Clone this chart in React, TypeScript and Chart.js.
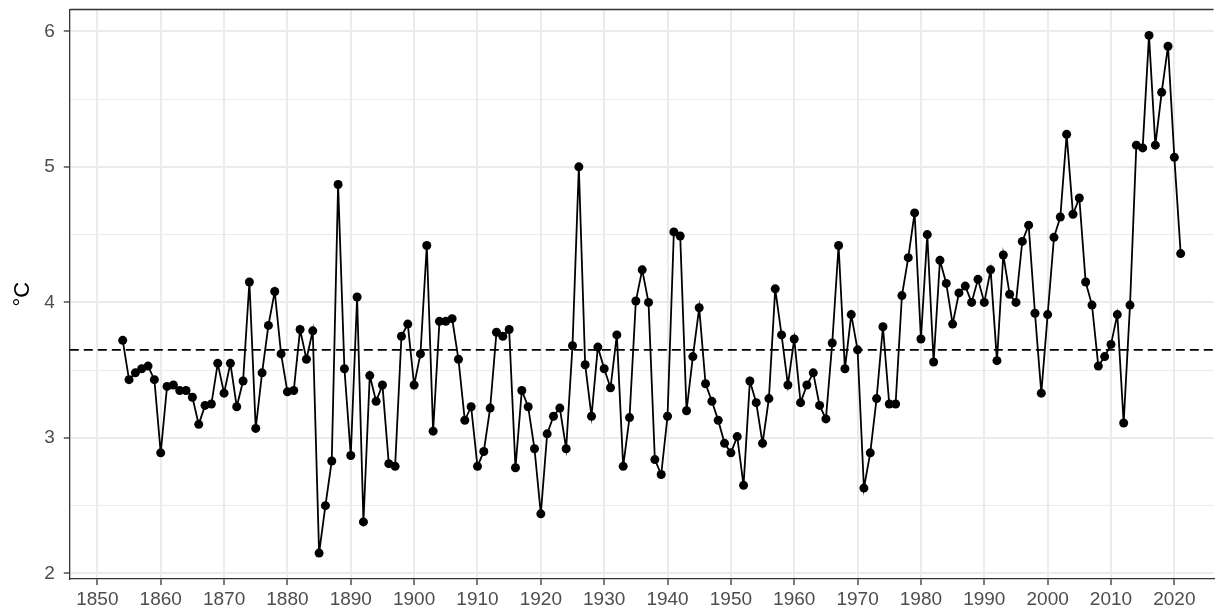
import { useEffect, useRef } from "react";
import { Chart, registerables } from "chart.js";

Chart.register(...registerables);

// Years (x categories)
const years: number[] = [
  1854, 1855, 1856, 1857, 1858, 1859,
  1860, 1861, 1862, 1863, 1864, 1865, 1866, 1867, 1868, 1869,
  1870, 1871, 1872, 1873, 1874, 1875, 1876, 1877, 1878, 1879,
  1880, 1881, 1882, 1883, 1884, 1885, 1886, 1887, 1888, 1889,
  1890, 1891, 1892, 1893, 1894, 1895, 1896, 1897, 1898, 1899,
  1900, 1901, 1902, 1903, 1904, 1905, 1906, 1907, 1908, 1909,
  1910, 1911, 1912, 1913, 1914, 1915, 1916, 1917, 1918, 1919,
  1920, 1921, 1922, 1923, 1924, 1925, 1926, 1927, 1928, 1929,
  1930, 1931, 1932, 1933, 1934, 1935, 1936, 1937, 1938, 1939,
  1940, 1941, 1942, 1943, 1944, 1945, 1946, 1947, 1948, 1949,
  1950, 1951, 1952, 1953, 1954, 1955, 1956, 1957, 1958, 1959,
  1960, 1961, 1962, 1963, 1964, 1965, 1966, 1967, 1968, 1969,
  1970, 1971, 1972, 1973, 1974, 1975, 1976, 1977, 1978, 1979,
  1980, 1981, 1982, 1983, 1984, 1985, 1986, 1987, 1988, 1989,
  1990, 1991, 1992, 1993, 1994, 1995, 1996, 1997, 1998, 1999,
  2000, 2001, 2002, 2003, 2004, 2005, 2006, 2007, 2008, 2009,
  2010, 2011, 2012, 2013, 2014, 2015, 2016, 2017, 2018, 2019,
  2020, 2021,
];

// Annual temperature (°C)
const temps: number[] = [
  3.72, 3.43, 3.48, 3.51, 3.53, 3.43,
  2.89, 3.38, 3.39, 3.35, 3.35, 3.30, 3.10, 3.24, 3.25, 3.55,
  3.33, 3.55, 3.23, 3.42, 4.15, 3.07, 3.48, 3.83, 4.08, 3.62,
  3.34, 3.35, 3.80, 3.58, 3.79, 2.15, 2.50, 2.83, 4.87, 3.51,
  2.87, 4.04, 2.38, 3.46, 3.27, 3.39, 2.81, 2.79, 3.75, 3.84,
  3.39, 3.62, 4.42, 3.05, 3.86, 3.86, 3.88, 3.58, 3.13, 3.23,
  2.79, 2.90, 3.22, 3.78, 3.75, 3.80, 2.78, 3.35, 3.23, 2.92,
  2.44, 3.03, 3.16, 3.22, 2.92, 3.68, 5.00, 3.54, 3.16, 3.67,
  3.51, 3.37, 3.76, 2.79, 3.15, 4.01, 4.24, 4.00, 2.84, 2.73,
  3.16, 4.52, 4.49, 3.20, 3.60, 3.96, 3.40, 3.27, 3.13, 2.96,
  2.89, 3.01, 2.65, 3.42, 3.26, 2.96, 3.29, 4.10, 3.76, 3.39,
  3.73, 3.26, 3.39, 3.48, 3.24, 3.14, 3.70, 4.42, 3.51, 3.91,
  3.65, 2.63, 2.89, 3.29, 3.82, 3.25, 3.25, 4.05, 4.33, 4.66,
  3.73, 4.50, 3.56, 4.31, 4.14, 3.84, 4.07, 4.12, 4.00, 4.17,
  4.00, 4.24, 3.57, 4.35, 4.06, 4.00, 4.45, 4.57, 3.92, 3.33,
  3.91, 4.48, 4.63, 5.24, 4.65, 4.77, 4.15, 3.98, 3.53, 3.60,
  3.69, 3.91, 3.11, 3.98, 5.16, 5.14, 5.97, 5.16, 5.55, 5.89,
  5.07, 4.36,
];

// Long-term mean (dashed reference line)
const meanTemp = 3.65;

// Axis limits and ticks
const xLimits: number[] = [1845.65, 2026.18];
const yLimits: number[] = [1.959, 6.161];
const xTickValues: number[] = [1850, 1860, 1870, 1880, 1890, 1900, 1910, 1920, 1930, 1940, 1950, 1960, 1970, 1980, 1990, 2000, 2010, 2020];
const yTickValues: number[] = [2, 2.5, 3, 3.5, 4, 4.5, 5, 5.5, 6];
const yMajorLabels: number[] = [2, 3, 4, 5, 6];
const yTitle = "°C";

const FONT = "'Liberation Sans', Arial, sans-serif";

const topBorderPlugin = {
  id: "topBorder",
  afterDraw(chart: any) {
    const { ctx, chartArea } = chart;
    ctx.save();
    ctx.strokeStyle = "#333333";
    ctx.lineWidth = 1.3;
    ctx.beginPath();
    ctx.moveTo(chartArea.left, chartArea.top);
    ctx.lineTo(chartArea.right, chartArea.top);
    ctx.stroke();
    ctx.restore();
  },
};

export default function App() {
  const ref = useRef<HTMLCanvasElement | null>(null);

  useEffect(() => {
    if (!ref.current) return;
    const chart = new Chart(ref.current, {
      type: "line",
      data: {
        datasets: [
          {
            label: "mean",
            data: xLimits.map((x) => ({ x, y: meanTemp })),
            borderColor: "#000000",
            borderWidth: 1.7,
            borderDash: [9, 5],
            pointRadius: 0,
            order: 2,
          },
          {
            label: "temp",
            data: years.map((x, i) => ({ x, y: temps[i] })),
            borderColor: "#000000",
            backgroundColor: "#000000",
            borderWidth: 1.8,
            pointRadius: 4.5,
            pointBackgroundColor: "#000000",
            pointBorderWidth: 0,
            tension: 0,
            order: 1,
          },
        ],
      },
      options: {
        animation: false,
        responsive: false,
        events: [],
        layout: { padding: { top: 9.5, right: 0, bottom: 0, left: 0 } },
        plugins: {
          legend: { display: false },
          tooltip: { enabled: false },
        },
        scales: {
          x: {
            type: "linear",
            min: xLimits[0],
            max: xLimits[1],
            afterBuildTicks: (scale: any) => {
              scale.ticks = xTickValues.map((v) => ({ value: v }));
            },
            afterFit: (scale: any) => {
              scale.height = 31;
              scale.paddingLeft = 0;
              scale.paddingRight = 0;
            },
            ticks: {
              autoSkip: false,
              maxRotation: 0,
              padding: 3.5,
              color: "#4D4D4D",
              font: { family: FONT, size: 19 },
              callback: (v: any) => String(v),
            },
            grid: {
              color: "#EBEBEB",
              lineWidth: 2,
              tickLength: 6,
              tickColor: "#333333",
              tickWidth: 1.3,
            },
            border: { display: true, color: "#333333", width: 1.3 },
          },
          y: {
            type: "linear",
            min: yLimits[0],
            max: yLimits[1],
            afterBuildTicks: (scale: any) => {
              scale.ticks = yTickValues.map((v) => ({ value: v }));
            },
            afterFit: (scale: any) => {
              scale.width = 69.8;
              scale.paddingTop = 0;
              scale.paddingBottom = 0;
            },
            title: {
              display: true,
              text: yTitle,
              color: "#000000",
              font: { family: FONT, size: 22 },
              padding: { top: 10, bottom: 0 },
            },
            ticks: {
              autoSkip: false,
              padding: 9,
              color: "#4D4D4D",
              font: { family: FONT, size: 19 },
              callback: (v: any) => (yMajorLabels.includes(v) ? String(v) : ""),
            },
            grid: {
              color: "#EBEBEB",
              lineWidth: (c: any) => (c.tick && yMajorLabels.includes(c.tick.value) ? 2 : 1),
              tickLength: 6,
              tickColor: (c: any) => (c.tick && yMajorLabels.includes(c.tick.value) ? "#333333" : "rgba(0,0,0,0)"),
              tickWidth: 1.3,
            },
            border: { display: true, color: "#333333", width: 1.3 },
          },
        },
      } as any,
      plugins: [topBorderPlugin],
    });
    return () => chart.destroy();
  }, []);

  return (
    <div style={{ position: "fixed", left: 0, top: 0, width: 1218, height: 610, background: "#ffffff" }}>
      <canvas ref={ref} width={1218} height={610} style={{ width: 1218, height: 610, display: "block" }} />
    </div>
  );
}
